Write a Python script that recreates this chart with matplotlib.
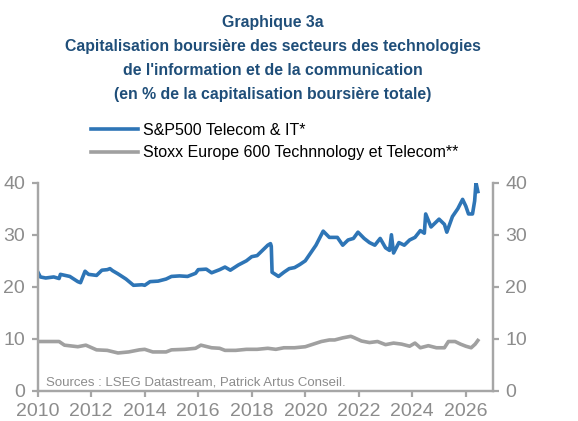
import numpy as np
from matplotlib import pyplot as plt

plt.rcParams['font.family'] = ['Liberation Sans Narrow', 'Liberation Sans', 'DejaVu Sans']

# S&P500 Telecom & IT (% of total market cap)
sp_years = [2010.0, 2010.1, 2010.3, 2010.6, 2010.8, 2010.85, 2011.2, 2011.5, 2011.6, 2011.77,
            2011.9, 2012.2, 2012.4, 2012.6, 2012.7, 2012.8, 2013.0, 2013.3, 2013.58, 2013.9,
            2014.0, 2014.2, 2014.5, 2014.8, 2015.0, 2015.3, 2015.6, 2015.9, 2016.0, 2016.3,
            2016.5, 2016.8, 2017.0, 2017.2, 2017.5, 2017.8, 2018.0, 2018.2, 2018.4, 2018.6,
            2018.7, 2018.73, 2018.76, 2018.85, 2019.0, 2019.2, 2019.4, 2019.6, 2019.8, 2020.0,
            2020.2, 2020.4, 2020.55, 2020.67, 2020.9, 2021.2, 2021.4, 2021.6, 2021.8, 2021.97,
            2022.2, 2022.4, 2022.6, 2022.8, 2023.0, 2023.15, 2023.22, 2023.3, 2023.5, 2023.7,
            2023.9, 2024.1, 2024.3, 2024.45, 2024.5, 2024.7, 2024.9, 2025.0, 2025.2, 2025.29,
            2025.5, 2025.7, 2025.88, 2026.0, 2026.1, 2026.25, 2026.33, 2026.38, 2026.45]
sp_values = [22.9, 21.9, 21.7, 21.9, 21.6, 22.4, 22.0, 21.0, 20.8, 23.0,
             22.4, 22.2, 23.2, 23.3, 23.5, 23.1, 22.5, 21.5, 20.3, 20.4,
             20.3, 21.0, 21.1, 21.5, 22.0, 22.1, 22.0, 22.6, 23.3, 23.4,
             22.7, 23.3, 23.8, 23.2, 24.2, 25.0, 25.8, 26.0, 27.0, 28.0,
             28.3, 27.8, 22.8, 22.5, 22.0, 22.8, 23.5, 23.7, 24.3, 25.0,
             26.5, 28.0, 29.5, 30.7, 29.5, 29.5, 28.0, 29.0, 29.3, 30.5,
             29.3, 28.5, 28.0, 29.3, 27.5, 27.0, 30.0, 26.5, 28.5, 28.0,
             29.0, 29.5, 30.8, 30.3, 34.0, 31.5, 32.5, 33.0, 32.0, 30.5,
             33.5, 35.0, 36.8, 35.5, 34.0, 34.0, 36.5, 40.0, 38.3]

# Stoxx Europe 600 Technology et Telecom (% of total market cap)
eu_years = [2010.0, 2010.8, 2011.0, 2011.5, 2011.8, 2012.2, 2012.6, 2013.0, 2013.4, 2013.8,
            2014.0, 2014.3, 2014.8, 2015.0, 2015.5, 2015.9, 2016.1, 2016.5, 2016.8, 2017.0,
            2017.4, 2017.8, 2018.2, 2018.6, 2018.9, 2019.2, 2019.6, 2020.0, 2020.3, 2020.6,
            2020.9, 2021.1, 2021.4, 2021.7, 2021.8, 2022.1, 2022.4, 2022.7, 2023.0, 2023.3,
            2023.6, 2023.9, 2024.1, 2024.3, 2024.6, 2024.9, 2025.2, 2025.35, 2025.6, 2025.8,
            2026.0, 2026.2, 2026.35, 2026.45]
eu_values = [9.5, 9.5, 8.8, 8.5, 8.8, 7.9, 7.8, 7.3, 7.5, 7.9,
             8.0, 7.5, 7.5, 7.9, 8.0, 8.2, 8.8, 8.3, 8.2, 7.8,
             7.8, 8.0, 8.0, 8.2, 8.0, 8.3, 8.3, 8.5, 9.0, 9.5,
             9.8, 9.8, 10.2, 10.5, 10.3, 9.6, 9.3, 9.5, 8.9, 9.2,
             9.0, 8.6, 9.2, 8.3, 8.7, 8.3, 8.3, 9.5, 9.5, 9.0,
             8.6, 8.3, 9.0, 9.7]

title_lines = ["Graphique 3a",
               "Capitalisation boursière des secteurs des technologies",
               "de l'information et de la communication",
               "(en % de la capitalisation boursière totale)"]

BLUE = "#2E75B6"
GREY_LINE = "#A0A0A0"
AXIS_GREY = "#A6A6A6"
TEXT_GREY = "#8C8C8C"
TITLE_BLUE = "#1F4E79"

fig = plt.figure(figsize=(5.78, 4.21), dpi=100)
ax = fig.add_axes([0.0652, 0.0713, 0.787, 0.4947])

ax.plot(sp_years, sp_values, color=BLUE, lw=2.6, label="S&P500 Telecom & IT*")
ax.plot(eu_years, eu_values, color=GREY_LINE, lw=2.6,
        label="Stoxx Europe 600 Technnology et Telecom**")

ax.set_xlim(2010, 2027)
ax.set_ylim(0, 40)
ax.set_xticks(np.arange(2010, 2027, 2))
ax.set_yticks([0, 10, 20, 30, 40])

ax2 = ax.twinx()
ax2.set_ylim(0, 40)
ax2.set_yticks([0, 10, 20, 30, 40])

for a in (ax, ax2):
    a.spines["top"].set_visible(False)
    for s in ("left", "right", "bottom"):
        a.spines[s].set_color(AXIS_GREY)
        a.spines[s].set_linewidth(1.6)
    a.tick_params(colors=AXIS_GREY, labelcolor=TEXT_GREY, labelsize=14,
                  width=1.6, length=4, direction="out", pad=5)

ax.text(2010.3, 1.7, "Sources : LSEG Datastream, Patrick Artus Conseil.",
        color=TEXT_GREY, fontsize=9.5, va="center", ha="left")

# title, one line at a time (centres at 23, 47, 71, 94 px from top)
for i, line in enumerate(title_lines):
    fig.text(0.472, 1 - (23 + 23.8 * i) / 421, line, ha="center", va="center",
             color=TITLE_BLUE, fontsize=11.4, fontweight="bold")

handles, labels = ax.get_legend_handles_labels()
fig.legend(handles, labels, loc="upper left", bbox_to_anchor=(0.157, 0.708),
           frameon=False, fontsize=11.5, handlelength=2.95, handletextpad=0.33,
           labelspacing=0.45, borderaxespad=0, borderpad=0)

fig.savefig("out.png", dpi=100)
